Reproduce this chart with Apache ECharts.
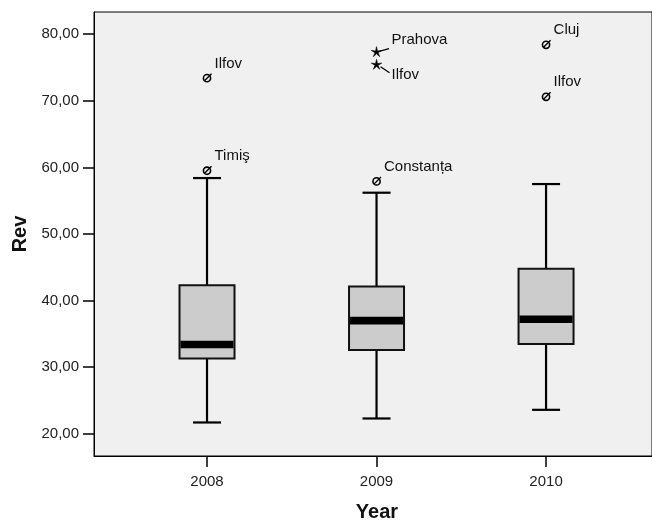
<!DOCTYPE html>
<html><head><meta charset="utf-8">
<script src="https://cdn.jsdelivr.net/npm/echarts@6/dist/echarts.min.js"></script>
<style>html,body{margin:0;padding:0;background:#fff}#c{width:652px;height:520px}</style>
</head><body><div id="c"></div>
<script>
// ---- data ----
const years = [2008, 2009, 2010];
const whiskerLow = [21.7, 22.3, 23.6];
const q1 = [31.3, 32.6, 33.5];
const median = [33.4, 37.0, 37.2];
const q3 = [42.3, 42.1, 44.8];
const whiskerHigh = [58.4, 56.2, 57.5];
const outlierYear = [2008, 2008, 2009, 2009, 2009, 2010, 2010];
const outlierValue = [59.5, 73.4, 57.9, 77.3, 75.4, 78.4, 70.6];
const outlierName = ['Timiş', 'Ilfov', 'Constanța', 'Prahova', 'Ilfov', 'Cluj', 'Ilfov'];
const outlierKind = ['o', 'o', 'o', '*', '*', 'o', 'o']; // o = outlier, * = extreme
const yTicks = [20, 30, 40, 50, 60, 70, 80];
const xTicks = years;

// ---- styles ----
const FONT = '"Liberation Sans", Arial, sans-serif';
const BOX_HALF = 27.5, CAP_HALF = 14, MED_HALF_H = 3.8;

const boxData = years.map((y, i) => [y, whiskerLow[i], q1[i], median[i], q3[i], whiskerHigh[i]]);
const outData = outlierYear.map((y, i) => [y, outlierValue[i], i]);

function renderBox(params, api) {
  const x = api.value(0);
  const cx = api.coord([x, api.value(3)])[0];
  const yLo = api.coord([x, api.value(1)])[1];
  const yQ1 = api.coord([x, api.value(2)])[1];
  const yMed = api.coord([x, api.value(3)])[1];
  const yQ3 = api.coord([x, api.value(4)])[1];
  const yHi = api.coord([x, api.value(5)])[1];
  const ls = { stroke: '#000', lineWidth: 2.2 };
  return {
    type: 'group',
    children: [
      { type: 'line', shape: { x1: cx, y1: yQ3, x2: cx, y2: yHi }, style: ls },
      { type: 'line', shape: { x1: cx, y1: yQ1, x2: cx, y2: yLo }, style: ls },
      { type: 'line', shape: { x1: cx - CAP_HALF, y1: yHi, x2: cx + CAP_HALF, y2: yHi }, style: ls },
      { type: 'line', shape: { x1: cx - CAP_HALF, y1: yLo, x2: cx + CAP_HALF, y2: yLo }, style: ls },
      { type: 'rect', shape: { x: cx - BOX_HALF, y: yQ3, width: 2 * BOX_HALF, height: yQ1 - yQ3 },
        style: { fill: '#cccccc', stroke: '#111', lineWidth: 2 } },
      { type: 'rect', shape: { x: cx - BOX_HALF + 1, y: yMed - MED_HALF_H, width: 2 * BOX_HALF - 2, height: 2 * MED_HALF_H },
        style: { fill: '#000' } }
    ]
  };
}

function starPoints(cx, cy, R, r) {
  const pts = [];
  for (let k = 0; k < 10; k++) {
    const a = -Math.PI / 2 + k * Math.PI / 5;
    const rad = k % 2 === 0 ? R : r;
    pts.push([cx + rad * Math.cos(a), cy + rad * Math.sin(a)]);
  }
  return pts;
}

function renderOutlier(params, api) {
  const idx = api.value(2);
  const p = api.coord([api.value(0), api.value(1)]);
  const cx = p[0], cy = p[1];
  const kind = outlierKind[idx];
  const name = outlierName[idx];
  const children = [];
  const txt = (t, x, y) => ({ type: 'text', style: { text: t, x: x, y: y, fill: '#111', fontSize: 15, fontFamily: FONT, align: 'left', verticalAlign: 'middle' } });
  if (kind === 'o') {
    children.push({ type: 'circle', shape: { cx: cx, cy: cy, r: 3.6 }, style: { fill: 'none', stroke: '#000', lineWidth: 1.6 } });
    children.push({ type: 'line', shape: { x1: cx - 2.5, y1: cy + 2.5, x2: cx + 4.5, y2: cy - 4.5 }, style: { stroke: '#000', lineWidth: 1.4 } });
    children.push(txt(name, cx + 7.5, cy - 14.5));
  } else {
    children.push({ type: 'polygon', shape: { points: starPoints(cx, cy, 5.5, 1.6) }, style: { fill: '#000', stroke: '#000', lineWidth: 0.6 } });
    let lower = false;
    for (let j = 0; j < outlierYear.length; j++) {
      if (j !== idx && outlierKind[j] === '*' && outlierYear[j] === outlierYear[idx] && outlierValue[j] > outlierValue[idx]) lower = true;
    }
    if (!lower) {
      children.push({ type: 'line', shape: { x1: cx + 3.5, y1: cy - 1, x2: cx + 12.5, y2: cy - 3.5 }, style: { stroke: '#000', lineWidth: 1.2 } });
      children.push(txt(name, cx + 15, cy - 12));
    } else {
      children.push({ type: 'line', shape: { x1: cx + 4, y1: cy + 2, x2: cx + 13, y2: cy + 8 }, style: { stroke: '#000', lineWidth: 1.2 } });
      children.push(txt(name, cx + 15, cy + 9.6));
    }
  }
  return { type: 'group', children: children };
}

const chart = echarts.init(document.getElementById('c'), null, { renderer: 'canvas' });
chart.setOption({
  animation: false,
  backgroundColor: '#fff',
  grid: { left: 94, top: 12, right: 0, bottom: 64, containLabel: false, outerBoundsMode: 'none',
          show: true, backgroundColor: '#f0f0f0', borderColor: '#000', borderWidth: 1 },
  xAxis: {
    type: 'value', min: 2008 - 2 / 3, max: 2010.625,
    axisLine: { show: true, onZero: false, lineStyle: { color: '#000', width: 1 } },
    axisTick: { show: true, customValues: xTicks, length: 11, lineStyle: { color: '#000', width: 1.5 } },
    axisLabel: { customValues: xTicks, formatter: v => String(Math.round(v)), margin: 18, fontSize: 15, color: '#222', fontFamily: FONT },
    splitLine: { show: false },
    name: 'Year', nameLocation: 'middle', nameGap: 46,
    nameTextStyle: { fontSize: 20, fontWeight: 'bold', color: '#111', fontFamily: FONT, padding: [0, 0, 0, 8] }
  },
  yAxis: {
    type: 'value', min: 50 / 3, max: 250 / 3,
    axisLine: { show: true, onZero: false, lineStyle: { color: '#000', width: 1 } },
    axisTick: { show: true, customValues: yTicks, length: 11, lineStyle: { color: '#000', width: 1.5 } },
    axisLabel: { customValues: yTicks, formatter: v => v.toFixed(2).replace('.', ','), margin: 15, fontSize: 15, color: '#222', fontFamily: FONT },
    splitLine: { show: false },
    name: 'Rev', nameLocation: 'middle', nameGap: 64,
    nameTextStyle: { fontSize: 20, fontWeight: 'bold', color: '#111', fontFamily: FONT }
  },
  series: [
    { type: 'custom', name: 'box', renderItem: renderBox, data: boxData, clip: false, encode: { x: 0, y: [1, 5] } },
    { type: 'custom', name: 'outliers', renderItem: renderOutlier, data: outData, clip: false, encode: { x: 0, y: 1 } }
  ]
});
</script>
</body></html>
